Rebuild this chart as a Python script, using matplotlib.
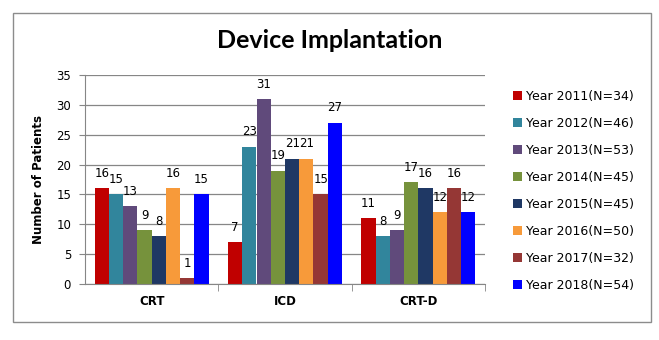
import matplotlib
matplotlib.use("Agg")
import matplotlib.pyplot as plt
from matplotlib.patches import Rectangle
import numpy as np

categories = ["CRT", "ICD", "CRT-D"]
series_names = ["Year 2011(N=34)", "Year 2012(N=46)", "Year 2013(N=53)", "Year 2014(N=45)",
                "Year 2015(N=45)", "Year 2016(N=50)", "Year 2017(N=32)", "Year 2018(N=54)"]
y2011 = [16, 7, 11]
y2012 = [15, 23, 8]
y2013 = [13, 31, 9]
y2014 = [9, 19, 17]
y2015 = [8, 21, 16]
y2016 = [16, 21, 12]
y2017 = [1, 15, 16]
y2018 = [15, 27, 12]
values = [y2011, y2012, y2013, y2014, y2015, y2016, y2017, y2018]
colors = ["#C00000", "#31859C", "#604A7B", "#76923C", "#1F3864", "#F79A3A", "#953735", "#0000FF"]

fig = plt.figure(figsize=(6.59, 3.40), dpi=100)
fig.patches.append(Rectangle((13 / 659, 1 - 322 / 340), 638 / 659, 309 / 340,
                             transform=fig.transFigure, fill=False,
                             edgecolor="#8C8C8C", linewidth=1.0))

ax = fig.add_axes([85 / 659, 1 - 284 / 340, 400 / 659, 209 / 340])

n = len(values)
group_w = 0.855
bw = group_w / n
x = np.arange(len(categories))
for i, (vals, c, name) in enumerate(zip(values, colors, series_names)):
    pos = x - group_w / 2 + bw * (i + 0.5)
    bars = ax.bar(pos, vals, width=bw, color=c, label=name, zorder=2)
    for b, v in zip(bars, vals):
        ax.annotate(str(v), (b.get_x() + b.get_width() / 2, v), xytext=(0, 6),
                    textcoords="offset points", ha="center", va="bottom",
                    fontsize=8.5, color="#000000", zorder=3)

ax.set_xlim(-0.5, 2.5)
ax.set_ylim(0, 35)
ax.set_yticks(range(0, 36, 5))
ax.yaxis.grid(True, color="#868686", linewidth=0.9, zorder=0)
ax.set_axisbelow(True)
for s in ["top", "right"]:
    ax.spines[s].set_visible(False)
for s in ["left", "bottom"]:
    ax.spines[s].set_color("#868686")
ax.tick_params(axis="y", length=4, color="#868686", labelsize=8.5, pad=6)
ax.set_xticks(x)
ax.set_xticklabels(categories, fontweight="bold", fontsize=8.5)
ax.tick_params(axis="x", length=0, pad=8)
ax.set_xticks([0.5, 1.5, 2.5], minor=True)
ax.tick_params(axis="x", which="minor", length=5, color="#868686")
ax.set_ylabel("Number of Patients", fontweight="bold", fontsize=8.5, labelpad=8)

fig.text(330 / 659, 1 - 40 / 340, "Device Implantation", ha="center", va="center",
         fontsize=18, fontweight="bold", family="Lato")

handles, labels = ax.get_legend_handles_labels()
fig.legend(handles, labels, loc="upper left", bbox_to_anchor=(508 / 659, 1 - 85 / 340),
           frameon=False, fontsize=9, handlelength=0.7, handleheight=0.7,
           handletextpad=0.3, labelspacing=1.12, borderaxespad=0)

fig.savefig("out.png", dpi=100)
